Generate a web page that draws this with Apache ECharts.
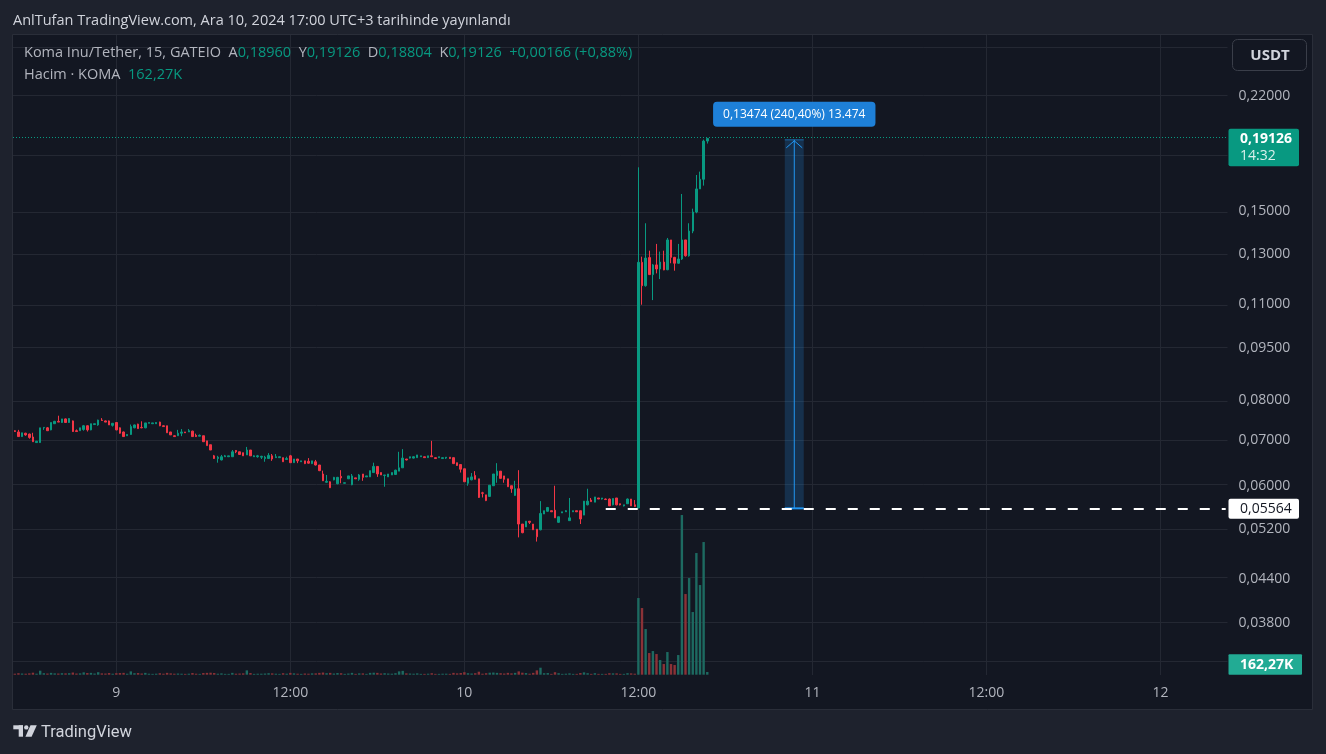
<!DOCTYPE html>
<html>
<head>
<meta charset="utf-8">
<script src="https://cdn.jsdelivr.net/npm/echarts@6/dist/echarts.min.js"></script>
<style>
html,body{margin:0;padding:0;background:#1e222d;}
#c{width:1326px;height:754px;}
</style>
</head>
<body>
<div id="c"></div>
<script>
// ---------- DATA (15-minute candles, KOMA/USDT, Dec 8 17:00 -> Dec 10 16:45, UTC+3) ----------
const opens = [
.0721,.0718,.0707,.0715,.0713,.0706,.0693,.0693,.0728,.0728,
.0723,.0738,.0744,.0741,.0750,.0741,.0745,.0721,.0721,.0724,
.0733,.0723,.0736,.0735,.0747,.0745,.0745,.0734,.0741,.0728,
.0718,.0709,.0712,.0728,.0737,.0729,.0728,.0739,.0738,.0738,
.0742,.0733,.0733,.0718,.0709,.0709,.0715,.0718,.0718,.0720,
.0710,.0708,.0709,.0697,.0688,.0663,.0657,.0654,.0661,.0661,
.0661,.0675,.0672,.0670,.0665,.0676,.0661,.0661,.0660,.0657,
.0657,.0663,.0659,.0659,.0659,.0655,.0663,.0648,.0656,.0650,
.0652,.0651,.0646,.0650,.0643,.0624,.0607,.0608,.0612,.0604,
.0619,.0605,.0614,.0602,.0616,.0613,.0624,.0618,.0618,.0627,
.0640,.0627,.0621,.0618,.0622,.0623,.0630,.0637,.0656,.0658,
.0658,.0659,.0661,.0661,.0659,.0663,.0659,.0659,.0657,.0658,
.0660,.0659,.0648,.0644,.0635,.0605,.0612,.0621,.0614,.0586,
.0582,.0579,.0600,.0621,.0630,.0620,.0614,.0600,.0581,.0594,
.0528,.0523,.0533,.0528,.0519,.0518,.0546,.0551,.0552,.0553,
.0531,.0548,.0550,.0534,.0550,.0552,.0552,.0544,.0563,.0572,
.0568,.0576,.0574,.0574,.0574,.0563,.0576,.0565,.0561,.0565,
.0574,.0563,.0557,.1265,.1170,.1285,.1214,.1254,.1237,.1266,
.1234,.1363,.1286,.1261,.1279,.1363,.1293,.1404,.1496,.1616,
.1669,.18960
];
const highs = [
.0722,.0723,.0716,.0716,.0714,.0716,.0697,.0728,.0730,.0730,
.0741,.0745,.0758,.0750,.0751,.0752,.0746,.0724,.0728,.0735,
.0734,.0738,.0738,.0748,.0752,.0746,.0746,.0740,.0742,.0729,
.0719,.0712,.0736,.0736,.0738,.0744,.0740,.0741,.0740,.0742,
.0743,.0734,.0733,.0718,.0710,.0723,.0725,.0718,.0725,.0721,
.0714,.0712,.0709,.0697,.0688,.0665,.0663,.0665,.0665,.0663,
.0676,.0676,.0672,.0670,.0683,.0676,.0664,.0665,.0663,.0663,
.0669,.0667,.0667,.0661,.0659,.0661,.0665,.0656,.0656,.0652,
.0652,.0658,.0652,.0654,.0643,.0631,.0622,.0609,.0618,.0618,
.0632,.0606,.0620,.0624,.0616,.0624,.0624,.0620,.0631,.0648,
.0640,.0627,.0622,.0624,.0627,.0633,.0672,.0678,.0656,.0661,
.0662,.0665,.0663,.0661,.0663,.0697,.0659,.0661,.0659,.0660,
.0660,.0659,.0648,.0644,.0635,.0616,.0626,.0630,.0614,.0588,
.0582,.0601,.0624,.0647,.0630,.0620,.0614,.0600,.0610,.0632,
.0528,.0533,.0533,.0528,.0519,.0570,.0552,.0559,.0552,.0600,
.0541,.0550,.0553,.0576,.0552,.0552,.0552,.0570,.0594,.0576,
.0578,.0576,.0576,.0575,.0575,.0575,.0576,.0565,.0563,.0575,
.0574,.0572,.1737,.1289,.1441,.1315,.1258,.1345,.1311,.1315,
.1372,.1363,.1288,.1345,.1589,.1363,.1441,.1513,.1693,.1712,
.1905,.19126
];
const lows = [
.0718,.0707,.0706,.0709,.0702,.0695,.0692,.0692,.0723,.0721,
.0722,.0738,.0742,.0740,.0740,.0740,.0718,.0718,.0721,.0721,
.0719,.0722,.0735,.0733,.0745,.0742,.0735,.0731,.0722,.0714,
.0706,.0709,.0711,.0727,.0726,.0727,.0727,.0739,.0738,.0738,
.0732,.0730,.0716,.0711,.0706,.0709,.0708,.0716,.0718,.0706,
.0706,.0708,.0695,.0686,.0676,.0656,.0648,.0653,.0661,.0661,
.0661,.0669,.0665,.0663,.0665,.0663,.0661,.0659,.0656,.0650,
.0656,.0652,.0659,.0659,.0650,.0654,.0648,.0648,.0647,.0650,
.0645,.0646,.0645,.0642,.0630,.0610,.0606,.0596,.0611,.0603,
.0605,.0605,.0614,.0601,.0614,.0610,.0610,.0618,.0618,.0626,
.0618,.0622,.0598,.0618,.0622,.0622,.0630,.0637,.0653,.0657,
.0657,.0659,.0661,.0659,.0659,.0661,.0656,.0659,.0656,.0656,
.0656,.0645,.0641,.0627,.0608,.0600,.0611,.0613,.0576,.0577,
.0570,.0578,.0600,.0606,.0615,.0606,.0598,.0586,.0580,.0505,
.0512,.0523,.0528,.0518,.0498,.0517,.0546,.0550,.0550,.0539,
.0530,.0548,.0550,.0534,.0550,.0550,.0528,.0544,.0562,.0569,
.0568,.0574,.0573,.0572,.0561,.0562,.0562,.0562,.0560,.0565,
.0561,.0559,.05564,.1098,.1166,.1213,.1115,.1219,.1196,.1232,
.1232,.1261,.1230,.1259,.1275,.1289,.1289,.1394,.1490,.1616,
.1634,.18804
];
const closes = [
.0719,.0707,.0716,.0711,.0705,.0695,.0696,.0728,.0729,.0721,
.0741,.0744,.0742,.0750,.0741,.0751,.0719,.0719,.0728,.0733,
.0723,.0738,.0738,.0747,.0746,.0742,.0735,.0739,.0723,.0715,
.0707,.0712,.0731,.0735,.0726,.0728,.0740,.0741,.0740,.0741,
.0733,.0731,.0716,.0711,.0707,.0715,.0718,.0716,.0721,.0707,
.0707,.0710,.0695,.0686,.0676,.0657,.0660,.0661,.0663,.0663,
.0672,.0672,.0666,.0663,.0676,.0663,.0663,.0663,.0662,.0660,
.0664,.0656,.0661,.0661,.0650,.0657,.0648,.0656,.0652,.0652,
.0646,.0647,.0652,.0643,.0631,.0610,.0609,.0596,.0617,.0617,
.0616,.0606,.0620,.0620,.0614,.0622,.0617,.0620,.0631,.0640,
.0624,.0622,.0622,.0624,.0627,.0632,.0637,.0658,.0654,.0661,
.0661,.0665,.0663,.0659,.0663,.0661,.0657,.0661,.0659,.0660,
.0657,.0646,.0642,.0634,.0608,.0616,.0618,.0613,.0577,.0585,
.0571,.0601,.0624,.0630,.0615,.0613,.0598,.0594,.0594,.0528,
.0513,.0533,.0531,.0518,.0506,.0547,.0552,.0558,.0550,.0539,
.0541,.0550,.0552,.0539,.0552,.0550,.0537,.0570,.0570,.0569,
.0578,.0574,.0576,.0573,.0561,.0575,.0563,.0563,.0563,.0574,
.0561,.0560,.1265,.1170,.1283,.1214,.1254,.1237,.1266,.1233,
.1363,.1286,.1261,.1279,.1363,.1293,.1404,.1496,.1616,.1669,
.1896,.19126
];
// volume, thousands of KOMA
const volumes = [
60,90,70,60,80,120,60,240,90,70,
110,80,70,90,80,90,130,70,80,140,
100,110,70,150,80,70,100,60,90,100,
110,60,200,90,100,70,110,60,50,60,
90,60,110,80,60,70,60,50,60,100,
60,50,100,110,120,100,60,80,50,50,
110,60,70,80,260,100,50,60,60,70,
90,80,60,50,90,60,110,80,60,50,
70,60,80,80,110,130,90,110,70,100,
90,50,70,110,50,80,80,50,110,120,
110,70,90,70,60,90,200,230,80,70,
60,80,50,50,60,90,50,50,60,60,
50,110,80,100,150,90,70,90,180,60,
90,120,130,110,90,70,110,80,110,200,
120,100,60,110,260,420,90,100,50,150,
90,50,60,80,50,50,100,140,90,50,
90,50,50,50,90,80,80,50,50,90,
80,60,4600,4000,2740,1300,1420,1240,880,640,
1360,640,580,1180,9580,4840,5800,3760,7300,5380,
7960,162.27
];
const priceTicks = [0.22,0.15,0.13,0.11,0.095,0.08,0.07,0.06,0.052,0.044,0.038];
const hiddenGridPrices = [0.26,0.18,0.0333];
const timeTickIndex = [28,76,124,172,220,268,316];
const timeTickLabels = ['9','12:00','10','12:00','11','12:00','12'];
const basePrice = 0.05564;
const measureTop = 0.19038;
const measureLabel = '0,13474 (240,40%) 13.474';
const lastPrice = 0.19126;
const lastVolumeLabel = '162,27K';
const countdown = '14:32';

// ---------- categories (15 min slots) ----------
const SLOTS = 335;
const categories = [];
{
  const t0 = Date.UTC(2024, 11, 8, 17, 0);
  for (let i = 0; i < SLOTS; i++) {
    const d = new Date(t0 + i * 15 * 60000);
    const p = n => String(n).padStart(2, '0');
    categories.push(d.getUTCFullYear() + '-' + p(d.getUTCMonth() + 1) + '-' + p(d.getUTCDate()) + ' ' + p(d.getUTCHours()) + ':' + p(d.getUTCMinutes()));
  }
}

const UP = '#089981', DOWN = '#f23645';
const GRID_COLOR = '#242833';
const TXT = '#b2b5be';
const FONT = '"Open Sans", Roboto, sans-serif';
const L = Math.log;
const fmt = v => v.toFixed(5).replace('.', ',');

const candleData = opens.map((o, i) => [L(o), L(closes[i]), L(lows[i]), L(highs[i])]);
const volData = volumes.map((v, i) => ({
  value: v,
  itemStyle: { color: closes[i] >= opens[i] ? '#1d6a61' : '#8b3237' }
}));

const GRID_LEFT = 13, GRID_W = 1214.5;

const chart = echarts.init(document.getElementById('c'), null, { renderer: 'canvas' });

const gridMarks = [];
priceTicks.concat(hiddenGridPrices).forEach(p => gridMarks.push({ yAxis: L(p) }));
timeTickIndex.forEach(i => gridMarks.push({ xAxis: categories[i] }));

const option = {
  animation: false,
  backgroundColor: '#1e222d',
  grid: [
    { left: GRID_LEFT, width: GRID_W, top: 35, height: 640 },
    { left: GRID_LEFT, width: GRID_W, bottom: 754 - 674.7, height: 200 }
  ],
  xAxis: [
    {
      type: 'category', data: categories, gridIndex: 0, boundaryGap: true,
      axisLine: { show: false }, axisTick: { show: false }, splitLine: { show: false },
      axisLabel: {
        color: TXT, fontSize: 14, fontFamily: FONT, margin: 11,
        interval: (idx) => timeTickIndex.indexOf(idx) >= 0,
        formatter: (v, idx) => { const k = timeTickIndex.indexOf(idx); return k >= 0 ? timeTickLabels[k] : ''; }
      }
    },
    {
      type: 'category', data: categories, gridIndex: 1, boundaryGap: true, show: false
    }
  ],
  yAxis: [
    {
      type: 'value', gridIndex: 0, position: 'right', scale: true,
      min: L(0.03190), max: L(0.27014),
      axisLine: { show: false }, axisTick: { show: false }, splitLine: { show: false },
      axisLabel: {
        customValues: priceTicks.map(L),
        color: TXT, fontSize: 14, fontFamily: FONT, margin: 11, align: 'left',
        formatter: v => fmt(Math.exp(v))
      }
    },
    { type: 'value', gridIndex: 1, min: 0, max: 12000, show: false }
  ],
  series: [
    {
      name: 'gridlines', type: 'line', xAxisIndex: 0, yAxisIndex: 0, data: [], z: 1, silent: true,
      markLine: {
        z: 1, silent: true, symbol: ['none', 'none'], animation: false,
        label: { show: false },
        lineStyle: { color: GRID_COLOR, type: 'solid', width: 1 },
        emphasis: { disabled: true },
        data: gridMarks
      }
    },
    {
      name: 'volume', type: 'bar', xAxisIndex: 1, yAxisIndex: 1, data: volData,
      barWidth: 2.4, z: 2, silent: true
    },
    {
      name: 'KOMA/USDT', type: 'candlestick', xAxisIndex: 0, yAxisIndex: 0, data: candleData,
      barWidth: 2, z: 3, silent: true,
      itemStyle: {
        color: UP, color0: DOWN, borderColor: UP, borderColor0: DOWN, borderColorDoji: UP, borderWidth: 1
      },
      markLine: {
        silent: true, symbol: ['none', 'none'], animation: false,
        label: { show: false },
        emphasis: { disabled: true },
        data: [
          { yAxis: L(lastPrice), lineStyle: { color: UP, type: [1, 2], width: 1 } },
          [
            { coord: [categories[163], L(basePrice)], lineStyle: { color: '#ffffff', type: [10, 12], width: 2 } },
            { coord: [categories[SLOTS - 1], L(basePrice)] }
          ]
        ]
      }
    },
    {
      name: 'measure', type: 'custom', xAxisIndex: 0, yAxisIndex: 0, z: 4, silent: true,
      data: [[215, L(measureTop), L(basePrice)]],
      encode: { x: 0, y: [1, 2] },
      renderItem: (params, api) => {
        const xi = api.value(0);
        const top = api.coord([xi, api.value(1)]);
        const bot = api.coord([xi, api.value(2)]);
        const slot = api.size([1, 0])[0];
        const half = slot * 2.62;
        const cx = top[0];
        return {
          type: 'group',
          children: [
            { type: 'rect', shape: { x: cx - half, y: top[1], width: half * 2, height: bot[1] - top[1] },
              style: { fill: 'rgba(33,150,243,0.2)' } },
            { type: 'line', shape: { x1: cx, y1: top[1], x2: cx, y2: bot[1] },
              style: { stroke: '#2196f3', lineWidth: 1 } },
            { type: 'line', shape: { x1: cx - half, y1: bot[1], x2: cx + half, y2: bot[1] },
              style: { stroke: '#2196f3', lineWidth: 2 } },
            { type: 'line', shape: { x1: cx - half, y1: top[1], x2: cx + half, y2: top[1] },
              style: { stroke: '#2196f3', lineWidth: 1, opacity: 0.6 } },
            { type: 'polyline', shape: { points: [[cx - 8, top[1] + 8], [cx, top[1] + 1], [cx + 8, top[1] + 8]] },
              style: { stroke: '#2196f3', fill: null, lineWidth: 1 } },
            { type: 'text', x: cx, y: top[1] - 25.5,
              style: { text: measureLabel, fill: '#ffffff', font: '12px ' + FONT, align: 'center', verticalAlign: 'middle',
                backgroundColor: '#1e80d8', padding: [7, 10, 6, 10], borderRadius: 4 } }
          ]
        };
      }
    }
  ]
};
chart.setOption(option);

// ---------- decorations (panel, header, badges, logo) ----------
const yLast = chart.convertToPixel({ yAxisIndex: 0 }, L(lastPrice));
const yBase = chart.convertToPixel({ yAxisIndex: 0 }, L(basePrice));
let yVol = chart.convertToPixel({ yAxisIndex: 1 }, volumes[volumes.length - 1]);
yVol = Math.min(yVol, 664.5);

const legendRich = {
  l: { fill: '#b2b5be', font: '14.5px ' + FONT },
  v: { fill: UP, font: '14.5px ' + FONT }
};

chart.setOption({
  graphic: [
    { type: 'rect', z: -10, silent: true, shape: { x: 12.5, y: 34.5, width: 1300, height: 675 },
      style: { fill: '#131722', stroke: '#2a2e39', lineWidth: 1 } },
    { type: 'text', z: 10, x: 13, y: 21, silent: true,
      style: { text: 'AnlTufan TradingView.com, Ara 10, 2024 17:00 UTC+3 tarihinde yayınlandı',
        fill: '#d1d4dc', font: '14.5px ' + FONT, verticalAlign: 'middle' } },
    { type: 'text', z: 10, x: 24, y: 53, silent: true,
      style: { text: '{l|Koma Inu/Tether, 15, GATEIO  A}{v|0,18960}{l|  Y}{v|0,19126}{l|  D}{v|0,18804}{l|  K}{v|0,19126}{v|  +0,00166 (+0,88%)}',
        rich: legendRich, font: '14.5px ' + FONT, verticalAlign: 'middle' } },
    { type: 'text', z: 10, x: 24, y: 75, silent: true,
      style: { text: '{l|Hacim · KOMA  }{v|162,27K}', rich: legendRich, font: '14.5px ' + FONT, verticalAlign: 'middle' } },
    // USDT button
    { type: 'rect', z: 10, silent: true, shape: { x: 1232.5, y: 39.5, width: 74, height: 31, r: 5 },
      style: { fill: '#131722', stroke: '#3a3e49', lineWidth: 1 } },
    { type: 'text', z: 11, x: 1270, y: 55.5, silent: true,
      style: { text: 'USDT', fill: '#d1d4dc', font: 'bold 15px ' + FONT, align: 'center', verticalAlign: 'middle' } },
    // last price badge
    { type: 'rect', z: 10, silent: true, shape: { x: 1228.5, y: yLast - 9.6, width: 70.5, height: 37.5, r: 2 },
      style: { fill: UP } },
    { type: 'text', z: 11, x: 1240, y: yLast + 0.5, silent: true,
      style: { text: fmt(lastPrice), fill: '#ffffff', font: 'bold 14px ' + FONT, verticalAlign: 'middle' } },
    { type: 'text', z: 11, x: 1240, y: yLast + 18, silent: true,
      style: { text: countdown, fill: 'rgba(255,255,255,0.85)', font: '14px ' + FONT, verticalAlign: 'middle' } },
    // base price badge
    { type: 'rect', z: 10, silent: true, shape: { x: 1228.5, y: yBase - 9.5, width: 70.5, height: 20, r: 2 },
      style: { fill: '#ffffff' } },
    { type: 'text', z: 11, x: 1240, y: yBase + 0.5, silent: true,
      style: { text: fmt(basePrice), fill: '#131722', font: '14px ' + FONT, verticalAlign: 'middle' } },
    // volume badge
    { type: 'rect', z: 10, silent: true, shape: { x: 1228.5, y: yVol - 10.2, width: 73.5, height: 20.4, r: 1 },
      style: { fill: '#22ab94' } },
    { type: 'text', z: 11, x: 1240, y: yVol + 0.5, silent: true,
      style: { text: lastVolumeLabel, fill: '#ffffff', font: 'bold 14px ' + FONT, verticalAlign: 'middle' } },
    // TradingView logo
    { type: 'group', z: 10, silent: true, children: [
      { type: 'rect', shape: { x: 13.3, y: 725.3, width: 9.7, height: 4 }, style: { fill: '#d1d4dc' } },
      { type: 'rect', shape: { x: 18.7, y: 725.3, width: 4.3, height: 11.4 }, style: { fill: '#d1d4dc' } },
      { type: 'circle', shape: { cx: 26.3, cy: 727.4, r: 2.2 }, style: { fill: '#d1d4dc' } },
      { type: 'polygon', shape: { points: [[30.5, 725.3], [36.8, 725.3], [31.6, 736.7], [25.4, 736.7]] }, style: { fill: '#d1d4dc' } }
    ] },
    { type: 'text', z: 10, x: 41, y: 732.5, silent: true,
      style: { text: 'TradingView', fill: '#d1d4dc', font: '16.5px Roboto, sans-serif', verticalAlign: 'middle' } }
  ]
});
</script>
</body>
</html>
